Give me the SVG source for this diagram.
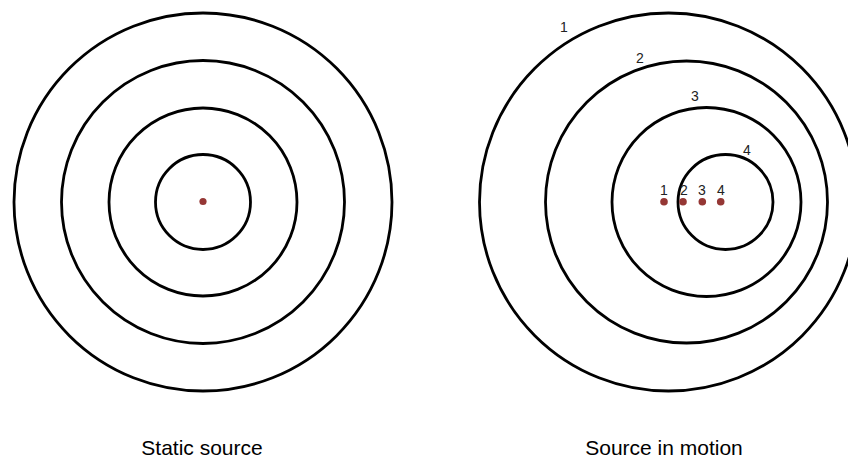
<svg xmlns="http://www.w3.org/2000/svg" width="848" height="459" viewBox="0 0 848 459">
<style>
.ring{fill:none;stroke:#000;stroke-width:2.8}
.src{fill:#953735}
.num{font-family:"Liberation Sans",Arial,sans-serif;font-size:14px;fill:#222;text-anchor:middle}
.cap{font-family:"Liberation Sans",Arial,sans-serif;font-size:21px;fill:#000;text-anchor:middle}
</style>
<rect width="848" height="459" fill="#fff"/>
<g id="static">
<circle class="ring" cx="203" cy="202" r="189"/>
<circle class="ring" cx="203" cy="202" r="141.5"/>
<circle class="ring" cx="203" cy="202" r="94"/>
<circle class="ring" cx="203" cy="202" r="47.5"/>
<circle class="src" cx="203" cy="201.5" r="3.6"/>
<text class="cap" x="202" y="455">Static source</text>
</g>
<g id="motion">
<circle class="ring" cx="668.5" cy="202" r="189"/>
<circle class="ring" cx="686.5" cy="202" r="141"/>
<circle class="ring" cx="706.5" cy="202" r="94.5"/>
<circle class="ring" cx="725.5" cy="202" r="47.5"/>
<circle class="src" cx="664" cy="201.7" r="3.8"/>
<circle class="src" cx="683" cy="201.7" r="3.8"/>
<circle class="src" cx="702.3" cy="201.7" r="3.8"/>
<circle class="src" cx="720.7" cy="201.7" r="3.8"/>
<text class="num" x="564" y="32">1</text>
<text class="num" x="640" y="63">2</text>
<text class="num" x="695" y="101">3</text>
<text class="num" x="747" y="155">4</text>
<text class="num" x="664" y="195">1</text>
<text class="num" x="684" y="195">2</text>
<text class="num" x="702" y="195">3</text>
<text class="num" x="721" y="195">4</text>
<text class="cap" x="664" y="455">Source in motion</text>
</g>
</svg>
